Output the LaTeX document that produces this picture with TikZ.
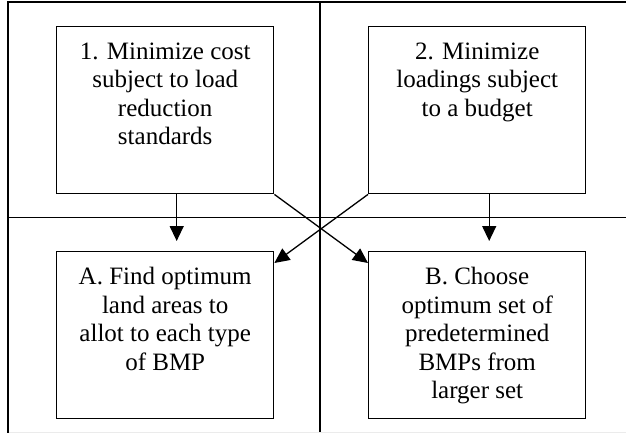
\documentclass[tikz,border=0pt]{standalone}
\usepackage{fontspec}
\setmainfont{Liberation Serif}
\usetikzlibrary{arrows.meta}
\begin{document}
\begin{tikzpicture}[x=1pt,y=-1pt,
  box/.style={draw, line width=1.4pt, minimum width=217pt, minimum height=167pt, inner sep=0pt, anchor=north west},
  txt/.style={anchor=north, align=center, font=\fontsize{25}{28.4}\selectfont, inner sep=0pt},
  frame/.style={line width=1.6pt},
  arr/.style={line width=1.3pt, -{Triangle[length=15pt,width=14pt]}}]
\useasboundingbox (0,0) rectangle (626,433);
% frame
\draw[frame] (8,433) -- (8,2) -- (626,2);
\draw[frame] (320,2) -- (320,433);
\draw[frame] (7.2,217.5) -- (626,217.5);
\draw[black!8, line width=1pt] (8.8,432) -- (626,432);
% boxes
\node[box] (b1) at (56,26) {};
\node[box] (b2) at (368,26) {};
\node[box] (bA) at (56,251) {};
\node[box] (bB) at (368,251) {};
% texts
\node[txt] (t1) at ([yshift=-16.8pt]b1.north) {1. Minimize cost\\subject to load\\reduction\\standards};
\node[txt] (t2) at ([yshift=-16.8pt]b2.north) {2. Minimize\\loadings subject\\to a budget};
\node[txt] (tA) at ([yshift=-16.4pt]bA.north) {A. Find optimum\\land areas to\\allot to each type\\of BMP};
\node[txt] (tB) at ([yshift=-16.4pt]bB.north) {B. Choose\\optimum set of\\predetermined\\BMPs from\\larger set};
% arrows
\draw[arr] ([xshift=11.5pt]b1.south) -- ([xshift=11.5pt,yshift=10pt]bA.north);
\draw[arr] ([xshift=12pt]b2.south) -- ([xshift=12pt,yshift=10pt]bB.north);
\draw[arr] (b1.south east) -- ([yshift=-12pt]bB.north west);
\draw[arr] (b2.south west) -- ([yshift=-12pt]bA.north east);
\end{tikzpicture}
\end{document}
